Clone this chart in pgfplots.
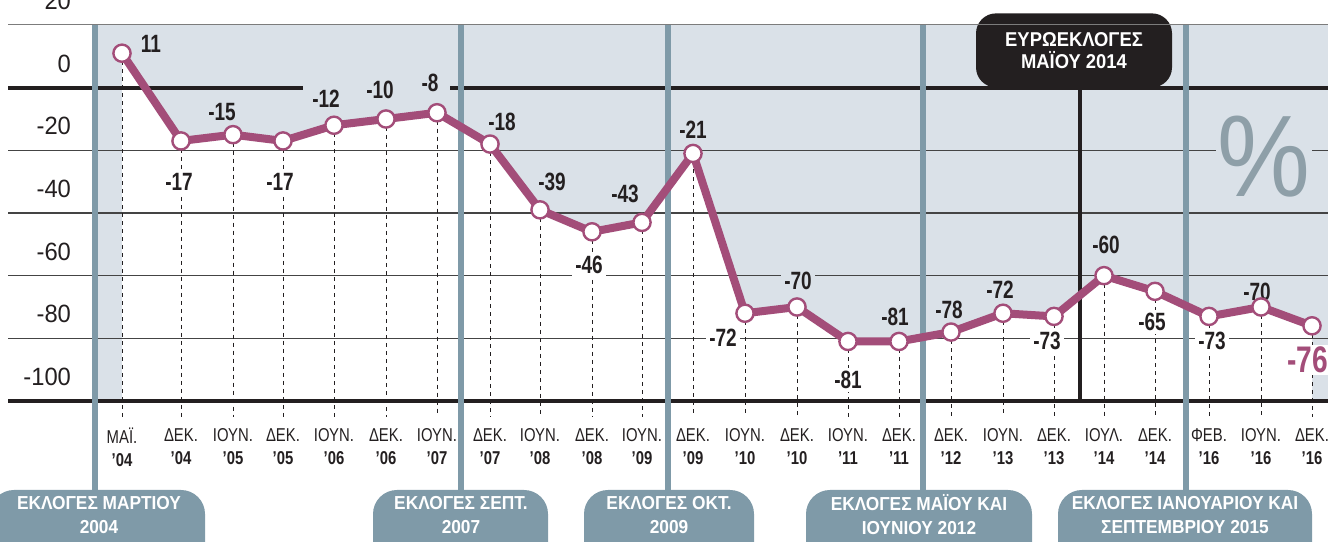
\documentclass[border=0pt]{standalone}
\usepackage{fontspec}
\setmainfont{Liberation Sans}
\newfontfamily\lightfont[FakeStretch=0.8]{Liberation Sans}
\newfontfamily\yfont[FakeStretch=0.95]{Liberation Sans}
\newfontfamily\valfont[FakeStretch=0.76]{Liberation Sans}
\newfontfamily\boxfont[FakeStretch=0.92]{Liberation Sans}
\newfontfamily\pctfont[FakeStretch=0.9]{Liberation Sans}
\usepackage{pgfplots}
\usepackage{pgfplotstable}
\pgfplotsset{compat=1.18}
\definecolor{bgshade}{HTML}{DAE1E8}
\definecolor{elec}{HTML}{7F9AA8}
\definecolor{mauve}{HTML}{A34D79}
\definecolor{inkk}{HTML}{231F20}
\definecolor{pctgray}{HTML}{8E9FA8}
\definecolor{gridc}{HTML}{444444}
\pgfplotstableread{
x y
122 11
181 -17
233 -15
283 -17
334 -12
386 -10
437 -8
490 -18
540 -39
592 -46
642 -43
693 -21
745 -72
797 -70
848 -81
899 -81
951 -78
1003 -72
1054 -73
1104 -60
1155 -65
1209 -73
1261 -70
1312 -76
}\data
\pgfplotstableread{
x y
122 -100
122 11
181 -17
233 -15
283 -17
334 -12
386 -10
437 -8
490 -18
540 -39
592 -46
642 -43
693 -21
745 -72
797 -70
848 -81
899 -81
951 -78
1003 -72
1054 -73
1104 -60
1155 -65
1209 -73
1261 -70
1312 -76
1312 -100
}\under
\newcommand{\vl}[1]{\valfont\bfseries\fontsize{12.5}{14}\selectfont #1}
\begin{document}
\begin{tikzpicture}
\begin{axis}[
  scale only axis, width=664pt, height=270.5pt,
  xmin=0, xmax=1328, ymin=-144.68, ymax=27.98,
  axis line style={draw=none}, major tick length=0pt,
  clip=true,
  xtick={122,181,233,283,334,386,437,490,540,592,642,693,745,797,848,899,951,1003,1054,1104,1155,1209,1261,1312},
  xticklabels={{ΜΑΪ.\\\textbf{’04}},{ΔΕΚ.\\\textbf{’04}},{ΙΟΥΝ.\\\textbf{’05}},{ΔΕΚ.\\\textbf{’05}},{ΙΟΥΝ.\\\textbf{’06}},{ΔΕΚ.\\\textbf{’06}},{ΙΟΥΝ.\\\textbf{’07}},{ΔΕΚ.\\\textbf{’07}},{ΙΟΥΝ.\\\textbf{’08}},{ΔΕΚ.\\\textbf{’08}},{ΙΟΥΝ.\\\textbf{’09}},{ΔΕΚ.\\\textbf{’09}},{ΙΟΥΝ.\\\textbf{’10}},{ΔΕΚ.\\\textbf{’10}},{ΙΟΥΝ.\\\textbf{’11}},{ΔΕΚ.\\\textbf{’11}},{ΔΕΚ.\\\textbf{’12}},{ΙΟΥΝ.\\\textbf{’13}},{ΔΕΚ.\\\textbf{’13}},{ΙΟΥΛ.\\\textbf{’14}},{ΔΕΚ.\\\textbf{’14}},{ΦΕΒ.\\\textbf{’16}},{ΙΟΥΝ.\\\textbf{’16}},{ΔΕΚ.\\\textbf{’16}}},
  xticklabel style={font=\lightfont\fontsize{9.3}{11.5}\selectfont, align=center, anchor=center, yshift=47pt, text=inkk},
  ytick={20,0,-20,-40,-60,-80,-100},
  yticklabels={20,0,-20,-40,-60,-80,-100},
  yticklabel style={font=\yfont\fontsize{12.5}{14}\selectfont, anchor=east, xshift=39pt, yshift=12pt, text=inkk},
]
% backgrounds
\fill[bgshade] (axis cs:95,20) rectangle (axis cs:1328,-100);
\addplot[fill=white, draw=none] table {\under} -- cycle;
% euro-election box
\node[fill=inkk, rounded corners=10pt, minimum width=98pt, minimum height=37pt, text=white, align=center, font=\boxfont\bfseries\fontsize{10}{11}\selectfont, inner sep=0pt] at (axis cs:1074,11.9) {ΕΥΡΩΕΚΛΟΓΕΣ\\ΜΑΪΟΥ 2014};
% grid lines
\draw[gridc!70, line width=0.5pt] (axis cs:8,20) -- (axis cs:1328,20);
\draw[gridc, line width=0.6pt] (axis cs:8,-20) -- (axis cs:1328,-20);
\draw[gridc, line width=0.6pt] (axis cs:8,-40) -- (axis cs:1328,-40);
\draw[gridc, line width=0.6pt] (axis cs:8,-60) -- (axis cs:1328,-60);
\draw[gridc, line width=0.6pt] (axis cs:8,-80) -- (axis cs:1328,-80);
\draw[inkk, line width=2pt] (axis cs:8,0) -- (axis cs:303,0);
\draw[inkk, line width=2pt] (axis cs:450,0) -- (axis cs:1328,0);
\draw[inkk, line width=2pt] (axis cs:8,-100) -- (axis cs:1328,-100);
% drop lines
\addplot[draw=none, mark=none, forget plot, error bars/.cd, y dir=minus, y explicit,
  error mark=none, error bar style={inkk, line width=0.5pt, dash pattern=on 2pt off 2pt}]
  table[x=x, y=y, y error expr=\thisrow{y}+105] {\data};
% election lines
\draw[elec, line width=2.6pt] (axis cs:95,20) -- (axis cs:95,-130);
\draw[elec, line width=2.6pt] (axis cs:461,20) -- (axis cs:461,-130);
\draw[elec, line width=2.6pt] (axis cs:668,20) -- (axis cs:668,-130);
\draw[elec, line width=2.6pt] (axis cs:923,20) -- (axis cs:923,-130);
\draw[elec, line width=2.6pt] (axis cs:1186,20) -- (axis cs:1186,-130);
\draw[inkk, line width=2.1pt] (axis cs:1080,0) -- (axis cs:1080,-100);
% percent sign
\node[fill=bgshade, inner sep=1pt, text=pctgray, font=\pctfont\fontsize{58}{58}\selectfont] at (axis cs:1264,-22.1) {\%};
% data
\addplot[mauve, line width=4pt, line join=round, mark=*, mark size=4.3pt, mark options={fill=white, draw=mauve, line width=1.2pt}] table {\data};
% value labels
\tikzset{vw/.style={fill=white, inner sep=1.5pt, text=inkk}, vb/.style={fill=bgshade, inner sep=1.5pt, text=inkk}}
\node[vb] at (axis cs:151,13.9) {\vl{11}};
\node[vw] at (axis cs:179,-30.1) {\vl{-17}};
\node[vb] at (axis cs:222,-7.8) {\vl{-15}};
\node[vw] at (axis cs:280,-30.1) {\vl{-17}};
\node[vb] at (axis cs:326,-3.6) {\vl{-12}};
\node[vb] at (axis cs:380,-0.75) {\vl{-10}};
\node[vb] at (axis cs:430,1.65) {\vl{-8}};
\node[vb] at (axis cs:502,-10.96) {\vl{-18}};
\node[vb] at (axis cs:552,-30.1) {\vl{-39}};
\node[vw] at (axis cs:589,-56.6) {\vl{-46}};
\node[vb] at (axis cs:625,-33.9) {\vl{-43}};
\node[vb] at (axis cs:693,-13.5) {\vl{-21}};
\node[vw] at (axis cs:723,-79.9) {\vl{-72}};
\node[vb] at (axis cs:798,-61.7) {\vl{-70}};
\node[vw] at (axis cs:848,-93.3) {\vl{-81}};
\node[vb] at (axis cs:895,-73.2) {\vl{-81}};
\node[vb] at (axis cs:949,-70.9) {\vl{-78}};
\node[vb] at (axis cs:1000,-64.6) {\vl{-72}};
\node[vw] at (axis cs:1047,-80.8) {\vl{-73}};
\node[vb] at (axis cs:1106,-50.2) {\vl{-60}};
\node[vw] at (axis cs:1152,-74.8) {\vl{-65}};
\node[vw] at (axis cs:1212,-80.8) {\vl{-73}};
\node[vb] at (axis cs:1257,-65.2) {\vl{-70}};
\node[fill=white, inner sep=1pt, anchor=west, text=mauve, font=\valfont\bfseries\fontsize{18.5}{20}\selectfont] at (axis cs:1285,-86.9) {-76};
% election boxes
\tikzset{eb/.style={fill=elec, rounded corners=12pt}, et/.style={text=white, align=center, font=\boxfont\bfseries\fontsize{9.4}{12}\selectfont}}
\fill[eb] (axis cs:-10,-128.4) rectangle (axis cs:205,-160);
\node[et] at (axis cs:99,-136.4) {ΕΚΛΟΓΕΣ ΜΑΡΤΙΟΥ\\2004};
\fill[eb] (axis cs:373,-128.4) rectangle (axis cs:548,-160);
\node[et] at (axis cs:461,-136.4) {ΕΚΛΟΓΕΣ ΣΕΠΤ.\\2007};
\fill[eb] (axis cs:584,-128.4) rectangle (axis cs:754,-160);
\node[et] at (axis cs:669,-136.4) {ΕΚΛΟΓΕΣ ΟΚΤ.\\2009};
\fill[eb] (axis cs:806,-128.4) rectangle (axis cs:1032,-160);
\node[et] at (axis cs:919,-136.4) {ΕΚΛΟΓΕΣ ΜΑΪΟΥ ΚΑΙ\\ΙΟΥΝΙΟΥ 2012};
\fill[eb] (axis cs:1058,-128.4) rectangle (axis cs:1312,-160);
\node[et] at (axis cs:1185,-136.4) {ΕΚΛΟΓΕΣ ΙΑΝΟΥΑΡΙΟΥ ΚΑΙ\\ΣΕΠΤΕΜΒΡΙΟΥ 2015};
\end{axis}
\pgfresetboundingbox
\path[use as bounding box] (current axis.south west) rectangle (current axis.north east);
\end{tikzpicture}
\end{document}
